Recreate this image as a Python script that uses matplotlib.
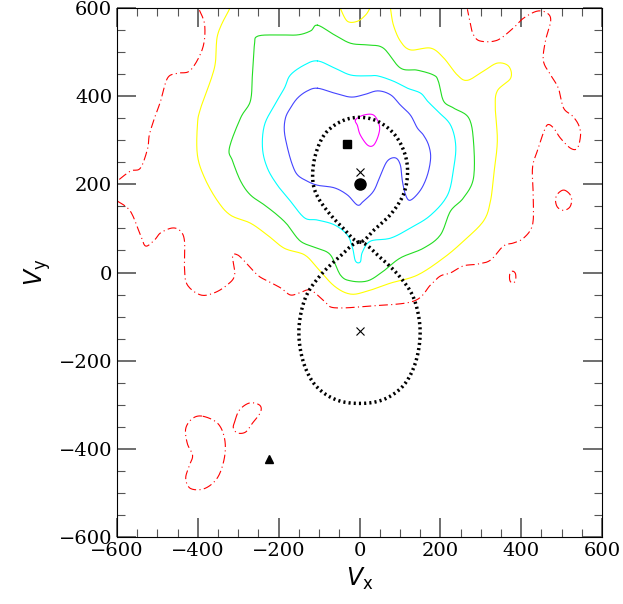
import numpy as np
import matplotlib
matplotlib.use("Agg")
import matplotlib.pyplot as plt
from matplotlib.ticker import MultipleLocator

red_left = [(-396,595),(-383,561),(-388,509),(-418,459),(-450,452),(-475,441),(-492,389),(-507,351),(-520,312),(-524,282),(-542,237),(-567,230),(-600,207)]
red_main = [(-599,162),(-567,139),(-542,85),(-529,60),(-507,74),(-492,90),(-463,101),(-443,94),(-433,71),(-433,10),(-426,-28),(-393,-51),(-359,-46),(-327,-28),(-309,-6),(-314,37),(-302,40),(-285,26),(-252,-6),(-228,-19),(-195,-35),(-171,-51),(-148,-46),(-121,-40),(-87,-65),(-62,-80),
            (27,-76),(134,-65),(176,-28),(200,-8),(225,-1),(257,15),(292,19),(324,28),(356,60),(381,67),(406,78),(428,108),(430,169),(428,237),(440,276),(453,312),(465,335),(480,328),(497,305),(522,282),(539,282),(547,312),(542,335),(527,355),(505,373),(492,418),(473,448),(455,480),(460,525),(473,570),(465,588),(440,593),(406,577),(381,555),(341,527),(299,525),(282,539),(275,561),(267,597)]
red_loop1 = [(-388,-326),(-351,-342),(-334,-376),(-334,-419),(-351,-465),(-383,-490),(-418,-490),(-430,-467),(-421,-438),(-413,-415),(-426,-388),(-430,-354),(-413,-331)]
red_loop2 = [(-309,-339),(-297,-312),(-272,-296),(-247,-301),(-245,-317),(-265,-342),(-282,-362),(-302,-364),(-312,-353)]
red_loop3 = [(505,187),(520,178),(525,164),(520,148),(505,141),(490,148),(485,164),(490,178)]
red_loop4 = [(379,3),(386,-3),(386,-18),(379,-24),(372,-18),(372,-3)]

yellow_main = [(-322,597),(-351,539),(-359,464),(-393,373),(-401,335),(-401,266),(-383,214),(-351,162),(-319,130),(-270,112),(-228,85),(-186,55),(-136,40),(-104,10),(-62,-31),(-22,-49),(20,-42),(77,-24),(143,-6),(208,33),(257,71),(307,117),(324,162),(332,221),(341,298),(336,373),(341,412),(374,441),(369,468),(341,475),(307,457),(267,436),(242,448),(208,487),(176,509),(126,505),(101,525),(84,561),(77,597)]
yellow_top = [(-47,598),(-30,570),(-5,570),(15,584),(25,598)]
green = [(-104,561),(-62,539),(-22,520),(20,516),(59,509),(101,464),(143,459),(183,448),(195,434),(208,389),(233,373),(270,351),(282,298),(282,214),(257,169),(225,139),(200,85),(158,55),(101,33),(59,3),(20,-19),(-22,-19),(-47,-6),(-72,40),(-104,55),(-146,71),(-178,108),(-203,130),(-235,153),(-270,176),(-294,207),(-314,253),(-322,282),(-294,351),(-270,389),(-265,448),(-260,516),(-252,536),(-203,539),(-153,539),(-121,548)]
cyan = [(-104,480),(-62,464),(-22,448),(20,446),(45,446),(84,434),(119,418),(151,407),(168,389),(193,366),(225,335),(238,289),(233,237),(218,176),(176,130),(126,101),(77,78),(27,71),(7,46),(2,24),(-10,26),(-17,55),(-30,85),(-62,108),(-104,119),(-136,124),(-171,162),(-203,198),(-228,237),(-240,282),(-235,335),(-210,380),(-186,418),(-171,448),(-136,471)]
blue = [(-104,418),(-62,407),(-22,398),(10,403),(45,412),(77,403),(101,380),(126,357),(143,328),(158,312),(171,289),(176,260),(168,221),(151,187),(126,164),(114,176),(106,208),(101,244),(89,260),(69,253),(52,221),(35,185),(10,162),(-5,153),(-30,176),(-62,192),(-104,198),(-129,207),(-153,221),(-166,244),(-178,282),(-186,321),(-183,351),(-171,373),(-153,396),(-129,412)]
magenta = [(-10,346),(10,357),(35,357),(49,334),(47,312),(35,289),(20,289),(2,312),(-5,333)]

upper_lobe = [(0,69),(-40,100),(-80,140),(-108,180),(-116,220),(-108,270),(-85,315),(-45,343),(0,352),(45,343),(85,315),(110,275),(119,230),(110,180),(80,135),(40,100)]
lower_lobe = [(0,69),(50,35),(100,-10),(135,-60),(150,-130),(140,-200),(110,-255),(60,-288),(0,-297),(-60,-288),(-110,-255),(-140,-200),(-150,-130),(-135,-60),(-100,-10),(-50,35)]

square_pt = (-30, 291)
circle_pt = (0, 200)
cross_pts = [(0, 228), (0, -133)]
triangle_pt = (-225, -423)

def smooth(pts, closed, n=12):
    p = np.array(pts, float)
    if closed:
        p = np.vstack([p[-1], p, p[0], p[1]])
    else:
        p = np.vstack([p[0], p, p[-1]])
    out = []
    for i in range(1, len(p) - 2):
        p0, p1, p2, p3 = p[i-1], p[i], p[i+1], p[i+2]
        for t in np.linspace(0, 1, n, endpoint=False):
            t2, t3 = t*t, t*t*t
            out.append(0.5*((2*p1) + (-p0+p2)*t + (2*p0-5*p1+4*p2-p3)*t2 + (-p0+3*p1-3*p2+p3)*t3))
    out.append(p[-2])
    return np.array(out)

fig = plt.figure(figsize=(6.23, 6.04), dpi=100)
ax = fig.add_axes([117/623, 1-537/604, 485/623, 529/604])

red_ls = (0, (8, 3, 1, 3))
for pts, cl in [(red_left, False), (red_main, False), (red_loop1, True), (red_loop2, True), (red_loop3, True), (red_loop4, True)]:
    s = smooth(pts, cl)
    ax.plot(s[:,0], s[:,1], color='red', lw=0.8, ls=red_ls)
for pts, cl, c in [(yellow_main, False, 'yellow'), (yellow_top, False, 'yellow'), (green, True, '#22dd22'),
                   (cyan, True, 'cyan'), (blue, True, '#4444ff'), (magenta, True, 'magenta')]:
    s = smooth(pts, cl)
    ax.plot(s[:,0], s[:,1], color=c, lw=0.8)
for pts in [upper_lobe, lower_lobe]:
    s = smooth(pts, True)
    ax.plot(s[:,0], s[:,1], color='black', lw=2.5, ls=(0, (0.6, 0.9)))

ax.plot(*square_pt, marker='s', color='black', ms=6)
ax.plot(*circle_pt, marker='o', color='black', ms=8)
for p in cross_pts:
    ax.plot(*p, marker='x', color='black', ms=6, mew=0.8)
ax.plot(*triangle_pt, marker='^', color='black', ms=6)

ax.set_xlim(-600, 600)
ax.set_ylim(-600, 600)
ax.xaxis.set_major_locator(MultipleLocator(200))
ax.yaxis.set_major_locator(MultipleLocator(200))
ax.xaxis.set_minor_locator(MultipleLocator(50))
ax.yaxis.set_minor_locator(MultipleLocator(50))
ax.tick_params(which='both', direction='in', top=True, right=True, labelsize=14, color='#555555')
ax.tick_params(which='major', length=14, width=1.2)
ax.tick_params(which='minor', length=6, width=0.8)
for lab in ax.get_xticklabels() + ax.get_yticklabels():
    lab.set_family('DejaVu Serif')
ax.set_xlabel(r'$V_{\rm x}$', fontsize=17, family='DejaVu Serif')
ax.set_ylabel(r'$V_{\rm y}$', fontsize=17, family='DejaVu Serif')
plt.rcParams['mathtext.fontset'] = 'dejavuserif'
ax.set_xlabel(r'$V_{\rm x}$', fontsize=17)
ax.set_ylabel(r'$V_{\rm y}$', fontsize=17)
fig.savefig('out.png', dpi=100)
